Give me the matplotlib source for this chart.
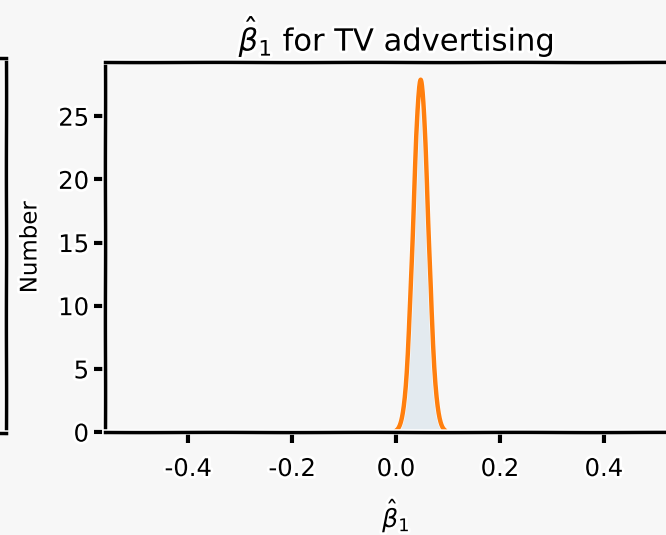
import numpy as np
import matplotlib
matplotlib.use('Agg')
import matplotlib.pyplot as plt

# estimated slope for TV and its standard error
beta_mean = 0.0475
beta_se = 0.0143
n_sd = 3.3

xticks = [-0.4, -0.2, 0.0, 0.2, 0.4]
yticks = [0, 5, 10, 15, 20, 25]

plt.xkcd(scale=0.1, length=150, randomness=1)
plt.rcParams['font.family'] = ['DejaVu Sans']
plt.rcParams['axes.linewidth'] = 2.5

W, H = 666, 535
fig = plt.figure(figsize=(W / 100, H / 100), dpi=100)
fig.patch.set_facecolor('#f7f7f7')

# neighbouring panel, only its right edge shows
ax0 = fig.add_axes([(6 - 400) / W, (H - 433) / H, 400 / W, (433 - 58) / H])
ax0.set_facecolor('#f7f7f7')
ax0.set_xticks([])
ax0.set_yticks([])

ax = fig.add_axes([105 / W, (H - 432) / H, (687 - 105) / W, (432 - 62) / H])
ax.set_facecolor('#f7f7f7')

xs = np.linspace(beta_mean - n_sd * beta_se, beta_mean + n_sd * beta_se, 300)
pdf = np.exp(-0.5 * ((xs - beta_mean) / beta_se) ** 2) / (beta_se * np.sqrt(2 * np.pi))

ax.fill_between(xs, pdf, color='#d3e0ea', alpha=0.55, lw=0)
ax.plot(xs, pdf, color='#ff7f0e', lw=3.2)

ax.set_xlim(-0.56, 0.56)
ax.set_ylim(0, pdf.max() * 1.05)
ax.set_xticks(xticks)
ax.set_xticklabels([f'{t:.1f}' for t in xticks])
ax.set_yticks(yticks)
ax.tick_params(labelsize=17.5)
ax.tick_params(axis='x', pad=10)

ax.set_title(r'$\hat{\beta}_1$ for TV advertising', fontsize=22, pad=8)
ax.set_xlabel(r'$\hat{\beta}_1$', fontsize=18, labelpad=12)
ax.set_ylabel('Number', fontsize=16.5, labelpad=12)

fig.savefig('out.png', dpi=100, facecolor=fig.get_facecolor())
